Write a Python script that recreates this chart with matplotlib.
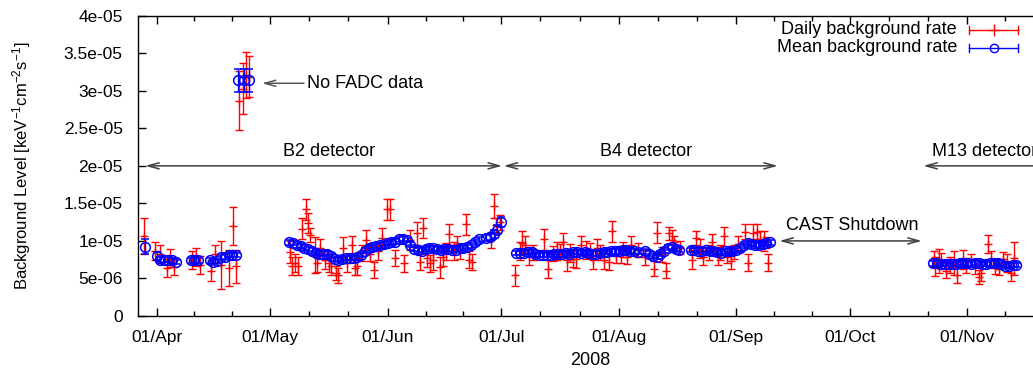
import matplotlib
matplotlib.use("Agg")
import matplotlib.pyplot as plt
from matplotlib.lines import Line2D
import numpy as np

plt.rcParams['font.family'] = ['Liberation Sans', 'DejaVu Sans']
plt.rcParams['mathtext.fontset'] = 'custom'
plt.rcParams['mathtext.rm'] = 'Liberation Sans'
plt.rcParams['mathtext.it'] = 'Liberation Sans:italic'

# x values are days counted from 01/Apr/2008, rates in units of 1e-6 keV-1 cm-2 s-1

# --- mean background rate (blue circles) ---
mean_days = ([-3, 0, 1, 2, 3, 4, 5] + [9, 10, 11] + list(range(14, 22))
             + [21.5, 23, 24.5]
             + list(range(35, 86)) + list(range(87, 92))
             + list(range(95, 128)) + list(range(129, 139))
             + list(range(141, 163)) + list(range(205, 228)))
mean_rate = ([9.2, 8.0, 7.5, 7.5, 7.5, 7.4, 7.2]
             + [7.4, 7.4, 7.4]
             + [7.4, 7.2, 7.3, 7.8, 7.9, 8.1, 8.1, 8.1]
             + [31.4, 31.4, 31.4]
             + [9.8, 9.7, 9.4, 9.3, 9.1, 8.9, 8.7, 8.4, 8.3, 8.3,
                8.3, 8.0, 7.6, 7.5, 7.6, 7.7, 7.7, 7.7, 7.8, 8.1,
                8.7, 9.0, 9.2, 9.3, 9.4, 9.6, 9.7, 9.8, 9.9, 10.2,
                10.3, 10.1, 9.5, 8.9, 8.8, 8.7, 8.9, 9.0, 9.0, 8.9,
                8.8, 8.9, 8.9, 8.8, 8.8, 9.0, 9.1, 9.2, 9.4, 9.8, 10.2]
             + [10.4, 10.5, 10.9, 11.5, 12.5]
             + [8.4, 8.4, 8.4, 8.5, 8.5, 8.2, 8.1, 8.1, 8.1, 8.1,
                8.2, 8.2, 8.2, 8.4, 8.3, 8.5, 8.5, 8.4, 8.5, 8.4,
                8.3, 8.3, 8.4, 8.5, 8.5, 8.6, 8.6, 8.6, 8.8, 8.8,
                8.7, 8.6, 8.5]
             + [8.6, 8.3, 8.0, 7.9, 8.3, 8.7, 9.1, 9.2, 8.9, 8.8]
             + [8.8, 8.8, 8.7, 8.7, 8.8, 8.7, 8.6, 8.5, 8.4, 8.6,
                8.6, 8.7, 8.8, 9.0, 9.4, 9.7, 9.6, 9.5, 9.4, 9.6,
                9.7, 9.8]
             + [7.0, 7.0, 6.9, 6.9, 6.9, 6.9, 6.9, 7.0, 7.1, 7.0,
                6.9, 7.1, 7.0, 6.9, 6.9, 7.0, 7.0, 7.1, 6.9, 6.7,
                6.7, 6.8, 6.8])
mean_err = ([1.0, 0.5, 0.4, 0.3, 0.3, 0.3, 0.3] + [0.3] * 3 + [0.3] * 8
            + [1.5, 1.5, 1.5]
            + [0.3] * 51 + [0.4, 0.4, 0.5, 0.6, 0.7]
            + [0.3] * 33 + [0.3] * 10 + [0.3] * 22 + [0.3] * 23)

# --- daily background rate (red) ---
daily_days = [-3.3, -0.4, 1.0, 2.8, 3.5, 4.5, 9.4, 10.5, 11.5, 14.4, 15.5, 17.0,
              19.0, 20.1, 20.9,
              21.8, 22.7, 23.6, 24.4,
              35.3, 35.7, 36.5, 37.3, 38.4, 39.5, 40.1, 40.6, 41.9, 42.3, 43.2,
              44.5, 45.4, 46.1, 47.3, 47.8, 49.3, 50.4, 51.7, 52.5, 53.0, 54.3,
              55.4, 56.3, 57.4, 58.5, 59.5, 60.9, 61.5, 63.0, 65.3, 67.0, 68.7,
              69.5, 70.4, 71.5, 72.3, 73.1, 74.9, 75.7, 76.3, 77.2, 78.5, 79.4,
              80.1, 81.6, 82.5, 83.3, 88.3, 89.2, 89.7, 90.7,
              94.7, 96.0, 96.4, 97.3, 98.4, 99.5, 102.4, 103.4, 104.7, 105.6,
              106.4, 107.3, 108.4, 109.1, 109.8, 110.8, 112.1, 113.4, 114.3,
              115.2, 116.2, 117.1, 118.2, 119.4, 120.2, 121.3, 122.6, 123.2,
              124.1, 125.2, 127.0, 128.9, 131.3, 132.2, 133.5, 134.4, 135.2,
              136.1, 136.5, 138.1, 141.4, 142.5, 143.4, 144.2, 145.7, 146.6,
              148.1, 148.8, 149.8, 150.7, 151.6, 152.4, 153.6, 155.3, 156.2,
              157.5, 158.4, 159.3, 160.3, 161.0, 161.4,
              205.1, 205.5, 206.6, 207.2, 208.4, 209.4, 210.5, 211.3, 212.9,
              213.8, 215.1, 216.0, 217.1, 217.7, 219.5, 220.3, 221.2, 222.4,
              223.4, 224.5, 225.5, 226.4]
daily_rate = [10.6, 8.7, 8.2, 6.4, 7.7, 6.5, 7.5, 7.9, 6.8, 6.0, 8.3, 6.8,
              6.4, 12.0, 6.6,
              28.7, 30.3, 32.1, 31.9,
              8.5, 6.7, 7.0, 6.7, 11.6, 14.2, 12.4, 10.8, 8.1, 7.0, 9.0,
              7.4, 7.0, 6.7, 5.7, 5.4, 9.1, 7.0, 9.4, 6.4, 6.6, 8.4,
              10.1, 8.3, 6.1, 8.6, 10.4, 14.2, 14.2, 7.7, 7.0, 10.1, 11.0,
              7.2, 11.7, 7.7, 7.0, 7.4, 6.5, 7.9, 8.6, 10.9, 8.7, 9.6,
              8.6, 12.2, 7.5, 7.2, 10.1, 14.6, 12.1, 12.5,
              5.4, 8.7, 9.7, 9.5, 8.0, 8.4, 10.2, 6.3, 8.3, 8.6,
              8.6, 9.9, 7.4, 8.4, 7.6, 7.6, 9.4, 8.8, 8.7,
              7.5, 9.1, 8.4, 7.5, 7.2, 11.3, 8.0, 8.2, 8.8,
              7.9, 9.5, 8.8, 7.8, 6.3, 11.1, 8.2, 6.0, 11.0,
              10.1, 9.8, 9.1, 7.5, 10.4, 9.0, 7.8, 8.5, 9.8,
              8.0, 8.4, 10.6, 7.8, 7.3, 8.5, 9.6, 11.2, 7.1,
              11.0, 11.2, 10.2, 10.0, 9.8, 7.1,
              7.6, 6.6, 7.3, 7.3, 6.0, 6.8, 7.1, 5.5, 7.5,
              6.7, 7.4, 6.5, 5.2, 5.7, 9.6, 7.5, 6.5, 6.2,
              7.6, 7.0, 5.7, 7.7]
daily_err = [2.4, 1.2, 1.2, 1.2, 1.2, 1.1, 1.2, 1.2, 1.2, 1.4, 1.2, 3.2,
             2.4, 2.5, 2.2,
             3.9, 3.4, 3.0, 2.7,
             1.5, 1.2, 1.2, 1.2, 1.4, 1.4, 1.3, 0.9, 2.4, 1.2, 1.3,
             1.2, 1.2, 1.2, 0.9, 1.0, 1.4, 1.1, 1.3, 1.0, 1.1, 1.1,
             1.3, 1.0, 1.1, 1.1, 1.3, 1.4, 1.4, 1.1, 1.1, 1.3, 1.5,
             1.1, 1.3, 1.2, 1.1, 1.3, 1.4, 1.2, 1.1, 1.4, 1.2, 1.0,
             1.0, 1.4, 1.1, 1.1, 1.1, 1.6, 0.9, 1.0,
             1.4, 1.2, 1.6, 1.1, 1.2, 1.0, 1.4, 1.2, 1.0, 1.2,
             1.0, 1.1, 1.4, 1.2, 1.1, 1.2, 1.3, 1.2, 1.0,
             1.2, 1.1, 1.0, 1.2, 1.1, 1.4, 1.0, 1.1, 1.0,
             1.0, 1.2, 0.9, 1.0, 1.0, 1.4, 1.0, 1.0, 0.9,
             1.3, 0.8, 0.9, 1.3, 0.9, 1.3, 1.0, 1.0, 1.1,
             1.2, 1.0, 1.3, 0.8, 1.0, 0.9, 1.0, 1.0, 1.1,
             1.2, 1.0, 1.1, 1.3, 0.7, 1.1,
             1.1, 1.3, 1.6, 1.1, 1.0, 1.1, 1.6, 1.1, 1.3,
             1.0, 0.9, 0.9, 0.9, 1.1, 1.2, 1.1, 0.9, 0.8,
             0.9, 1.2, 1.0, 2.2]

# axis ticks
month_days = [0, 30, 61, 91, 122, 153, 183, 214, 244]
month_labels = ['01/Apr', '01/May', '01/Jun', '01/Jul', '01/Aug', '01/Sep', '01/Oct', '01/Nov']
y_ticks = [0, 5e-6, 1e-5, 1.5e-5, 2e-5, 2.5e-5, 3e-5, 3.5e-5, 4e-5]
y_labels = ['0', '5e-06', '1e-05', '1.5e-05', '2e-05', '2.5e-05', '3e-05', '3.5e-05', '4e-05']

# periods (start day, end day, label)
periods = [(-3.0, 91.2, 'B2 detector'), (91.6, 164.0, 'B4 detector'), (202.4, 240.0, 'M13 detector')]
shutdown = (164.4, 202.0, 'CAST Shutdown')

W, H = 1033, 369
fig = plt.figure(figsize=(W / 100, H / 100), dpi=100)
ax = fig.add_axes([138 / W, 1 - 316 / H, 905 / W, (316 - 15.7) / H])

s = 1e-6
ax.errorbar(daily_days, np.array(daily_rate) * s, yerr=np.array(daily_err) * s,
            fmt='+', color='#ff0000', ms=6, mew=1, elinewidth=1, capsize=3, capthick=1, zorder=2)
ax.errorbar(mean_days, np.array(mean_rate) * s, yerr=np.array(mean_err) * s,
            fmt='o', color='#0000ff', mfc='none', ms=7, mew=1.1, elinewidth=1,
            capsize=3, capthick=1, zorder=3)

ax.set_xlim(-4.9, 232)
ax.set_ylim(0, 4e-5)

ax.set_xticks(month_days[:-1])
ax.set_xticklabels(month_labels)
minor = []
for a, b in zip(month_days[:-1], month_days[1:]):
    minor += [a + (b - a) / 3, a + 2 * (b - a) / 3]
ax.set_xticks(minor, minor=True)
ax.set_yticks(y_ticks)
ax.set_yticklabels(y_labels)
ax.tick_params(axis='both', which='major', direction='in', length=6, width=1,
               top=True, right=True, labelsize=12.5, pad=11, colors='black')
ax.tick_params(axis='x', which='minor', direction='in', length=3.5, width=1, top=True)
ax.tick_params(axis='x', which='major', pad=10)
for sp in ax.spines.values():
    sp.set_linewidth(1)

ax.set_xlabel('2008', fontsize=13, labelpad=5)
ax.set_ylabel('Background Level [keV$^{-1}$cm$^{-2}$s$^{-1}$]', fontsize=12, labelpad=22)

acol = '#404040'
for a, b, lab in periods:
    ax.annotate('', xy=(a, 2e-5), xytext=(b, 2e-5),
                arrowprops=dict(arrowstyle='<->,head_length=0.8,head_width=0.22', color=acol,
                                lw=1.1, shrinkA=0, shrinkB=0), annotation_clip=False)
    if lab.startswith('M13'):
        ax.text(a + 2.3, 2.19e-5, lab, fontsize=13, ha='left', va='center', clip_on=False)
    else:
        ax.text((a + b) / 2 + 1.5, 2.19e-5, lab, fontsize=13, ha='center', va='center')

a, b, lab = shutdown
ax.annotate('', xy=(a, 1e-5), xytext=(b, 1e-5),
            arrowprops=dict(arrowstyle='<->,head_length=0.8,head_width=0.22', color=acol,
                            lw=1.1, shrinkA=0, shrinkB=0))
ax.text((a + b) / 2 + 0.5, 1.2e-5, lab, fontsize=13, ha='center', va='center')

ax.annotate('', xy=(27.8, 3.1e-5), xytext=(38.9, 3.1e-5),
            arrowprops=dict(arrowstyle='->,head_length=0.8,head_width=0.22', color='#555555',
                            lw=1.1, shrinkA=0, shrinkB=0))
ax.text(39.6, 3.1e-5, 'No FADC data', fontsize=13, ha='left', va='center')

# legend in gnuplot style
def fx(px):
    return px / W

def fy(py):
    return 1 - py / H

for py, col, mk, lab in [(30, '#ff0000', '+', 'Daily background rate'),
                         (48, '#0000ff', 'o', 'Mean background rate')]:
    fig.text(fx(957), fy(py), lab, fontsize=13, ha='right', va='center')
    fig.add_artist(Line2D([fx(969), fx(1018)], [fy(py), fy(py)], color=col, lw=1))
    for ex in (969, 1018):
        fig.add_artist(Line2D([fx(ex), fx(ex)], [fy(py - 4), fy(py + 4)], color=col, lw=1))
    fig.add_artist(Line2D([fx(993.5)], [fy(py)], marker=mk, color=col, mfc='none',
                          ms=6 if mk == 'o' else 8, mew=1))

fig.savefig('out.png', dpi=100)
